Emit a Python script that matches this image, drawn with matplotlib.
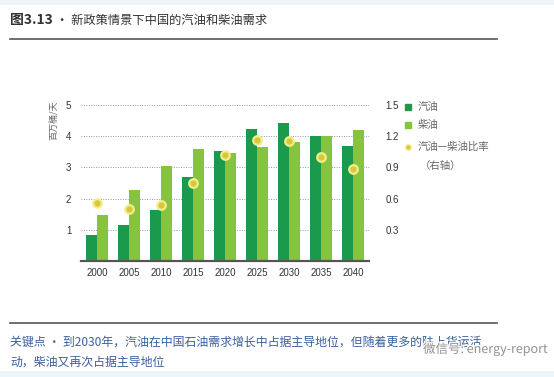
import matplotlib
matplotlib.use("Agg")
import matplotlib.pyplot as plt
import matplotlib.patheffects as pe
import numpy as np
from matplotlib.lines import Line2D
from matplotlib.patches import Rectangle

plt.rcParams['font.family'] = ['Noto Sans CJK SC', 'DejaVu Sans']

# data
years = ["2000", "2005", "2010", "2015", "2020", "2025", "2030", "2035", "2040"]
gasoline = [0.82, 1.14, 1.63, 2.68, 3.52, 4.22, 4.41, 4.01, 3.69]
diesel = [1.47, 2.28, 3.05, 3.59, 3.45, 3.64, 3.82, 4.01, 4.19]
ratio = [0.56, 0.50, 0.54, 0.75, 1.02, 1.16, 1.15, 1.00, 0.88]
left_ticks = [1, 2, 3, 4, 5]
right_ticks = [0.3, 0.6, 0.9, 1.2, 1.5]

GAS = "#1a9a4a"
DIESEL = "#86c440"
DOT = "#d6c83a"
DOT_RING = "#f3ee8c"
GREY = "#555555"
CAPTION = "#3a5f9e"

W, H = 554, 377
fig = plt.figure(figsize=(W / 100, H / 100), dpi=100)
fig.patch.set_facecolor("white")

def px(x, y):
    return x / W, 1 - y / H

# light blue page bands
fig.add_artist(Rectangle((0, 1 - 5 / H), 1, 5 / H, transform=fig.transFigure,
                         facecolor="#edf4fa", edgecolor="none"))
fig.add_artist(Rectangle((0, 0), 1, 6 / H, transform=fig.transFigure,
                         facecolor="#edf4fa", edgecolor="none"))

# title + rules
tx, ty = px(10, 20)
fig.text(tx, ty, "图3.13", fontsize=10, fontweight="bold", color="#333333", va="center", ha="left")
fig.text(px(56, 20)[0], ty, "· 新政策情景下中国的汽油和柴油需求", fontsize=8.8, color="#333333",
         va="center", ha="left")
for yy in (39, 323):
    fig.add_artist(Line2D([10 / W, 497 / W], [1 - yy / H] * 2, transform=fig.transFigure,
                          color=GREY, lw=1.2))

# main axes
x0, y0 = px(81, 261)
x1, y1 = px(369, 105)
ax = fig.add_axes([x0, y0, x1 - x0, y1 - y0])
x = np.arange(len(years))
w = 0.34
ax.bar(x - w / 2, gasoline, w, color=GAS, zorder=3)
ax.bar(x + w / 2, diesel, w, color=DIESEL, zorder=3)
ax.set_xlim(-0.5, len(years) - 0.5)
ax.set_ylim(0, 5)
ax.set_yticks(left_ticks)
ax.set_xticks(x)
ax.set_xticklabels(years)
ax.grid(axis="y", linestyle=(0, (1, 1.5)), color="#9a9a9a", lw=0.7, zorder=0)
for s in ("top", "right", "left"):
    ax.spines[s].set_visible(False)
ax.spines["bottom"].set_color(GREY)
ax.spines["bottom"].set_linewidth(1.6)
ax.spines["bottom"].set_zorder(4)
ax.tick_params(axis="both", length=0, labelsize=7, labelcolor="#333333")
ax.tick_params(axis="y", pad=7)
ax.tick_params(axis="x", pad=5)
for lab in ax.get_xticklabels() + ax.get_yticklabels():
    lab.set_family(["Liberation Sans", "DejaVu Sans"])

ax2 = ax.twinx()
ax2.set_ylim(0, 1.5)
ax2.set_yticks(right_ticks)
ax2.set_yticklabels([f"{v:.1f}" for v in right_ticks])
ax2.scatter(x, ratio, s=38, color=DOT, edgecolor=DOT_RING, linewidth=1.6, zorder=5)
for s in ("top", "right", "left", "bottom"):
    ax2.spines[s].set_visible(False)
ax2.tick_params(axis="y", length=0, labelsize=7, labelcolor="#333333", pad=12)
for lab in ax2.get_yticklabels():
    lab.set_family(["Liberation Sans", "DejaVu Sans"])

# y label
fig.text(*px(53, 120), "百万桶/天", rotation=90, fontsize=6.5, color="#666666",
         ha="center", va="center")

# legend
leg = [("汽油", "s", GAS, 107), ("柴油", "s", DIESEL, 125), ("汽油—柴油比率", "o", DOT, 147)]
for label, mk, col, yy in leg:
    mx, my = px(408, yy)
    fig.add_artist(Line2D([mx], [my], marker=mk, markersize=5 if mk == "s" else 4,
                          color=col, markeredgecolor=DOT_RING if mk == "o" else col,
                          transform=fig.transFigure, linestyle="none"))
    fig.text(px(418, yy)[0], my, label, fontsize=7.5, color="#666666", va="center", ha="left")
fig.text(*px(420, 166), "（右轴）", fontsize=7.5, color="#666666", va="center", ha="left")

# caption
cap1 = "关键点 · 到2030年，汽油在中国石油需求增长中占据主导地位，但随着更多的陆上货运活"
cap2 = "动，柴油又再次占据主导地位"
fig.text(*px(10, 342), cap1, fontsize=8.6, color=CAPTION, style="italic", va="center", ha="left")
fig.text(*px(10, 362), cap2, fontsize=8.6, color=CAPTION, style="italic", va="center", ha="left")

# watermark (overlays the caption, as in the source image)
fig.text(*px(423, 349), "微信号: energy-report", fontsize=9, color="#8a8a8a", va="center", ha="left",
         alpha=0.9, path_effects=[pe.withStroke(linewidth=2, foreground="white")])

fig.savefig("out.png", dpi=100)
